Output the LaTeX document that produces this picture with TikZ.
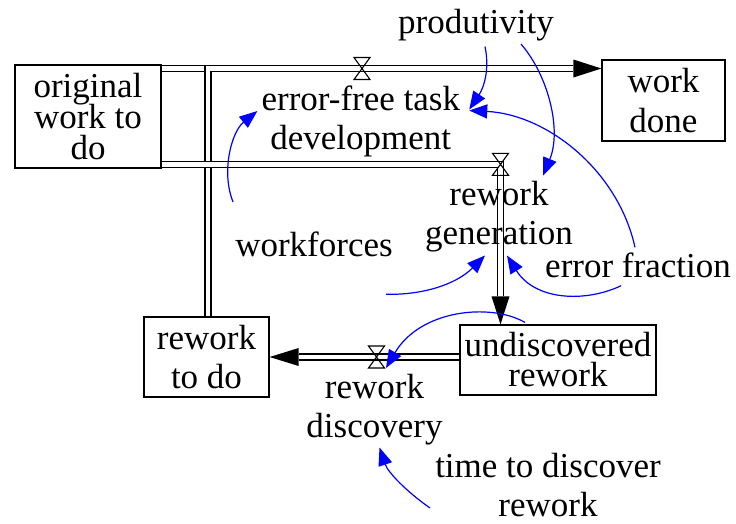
\documentclass[tikz,border=0pt]{standalone}
\usepackage{fontspec}
\setmainfont{Liberation Serif}
\usetikzlibrary{arrows.meta,calc}
\lineskiplimit=-100pt
\pgfdeclarelayer{pipes}
\pgfsetlayers{pipes,main}

\begin{document}
\begin{tikzpicture}[x=1pt,y=-1pt,
  lbl/.style={inner sep=0pt, align=center, font=\fontsize{35}{39.5}\selectfont},
  stock/.style={draw, line width=1.2pt, inner sep=0pt, align=center},
  pipe/.style={line width=1.3pt, double=white, double distance=4.5pt},
  infl/.style={draw=blue, line width=1.2pt, -{Triangle[length=18pt,width=14pt]}},
  valve/.pic={\draw[line width=1.1pt] (-8,-11) -- (8,-11) -- (-8,11) -- (8,11) -- cycle;}
]
\useasboundingbox (0,0) rectangle (736,523);

% stocks
\node[stock, minimum width=146pt, minimum height=103pt, font=\fontsize{35}{31.3}\selectfont] (orig) at (88,116.5) {original\\work to\\do};
\node[stock, minimum width=123pt, minimum height=81pt, font=\fontsize{35}{39.6}\selectfont] (done) at (663.5,100.5) {work\\done};
\node[stock, minimum width=125pt, minimum height=80pt, font=\fontsize{35}{39}\selectfont] (rtd) at (206.5,357) {rework\\to do};
\node[stock, minimum width=196pt, minimum height=70pt, font=\fontsize{35}{30}\selectfont] (ur) at (558,360) {undiscovered\\rework};

% flow and auxiliary labels
\node[lbl] (eftd) at (360.8,121.5) {error-free task\\development};
\node[lbl] (rg) at (499,216.6) {rework\\generation};
\node[lbl] (rd) at (374.5,409.6) {rework\\discovery};
\node[lbl] (tdr) at (548,485) {time to discover\\rework};
\node[lbl, anchor=base] (prod) at (476,33.3) {produtivity};
\node[lbl, anchor=base] (wf) at (314,256.7) {workforces};
\node[lbl, anchor=base] (errf) at (638,277.2) {error fraction};

% valve positions and pipe corner
\coordinate (vEF) at (362,68.5);
\coordinate (vRG) at (500.5,164.3);
\coordinate (vRD) at (376.5,357);
\coordinate (jTop) at (208,68.5);

% pipes
\begin{pgfonlayer}{pipes}
\draw[pipe] (orig.east |- vEF) -- (jTop);
\draw[pipe, shorten >=28pt] (rtd.north -| jTop) -- (jTop) -- (done.west |- vEF);
\draw[pipe, shorten >=28pt] (orig.east |- vRG) -- (vRG) -- (ur.north -| vRG);
\draw[pipe, shorten >=29pt] (ur.west |- vRD) -- (rtd.east |- vRD);
\end{pgfonlayer}

% flow arrowheads
\fill (done.west |- vEF) -- ++(-28,-9) -- ++(0,18) -- cycle;
\fill (ur.north -| vRG) -- ++(-9,-28) -- ++(18,0) -- cycle;
\fill (rtd.east |- vRD) -- ++(29,-9) -- ++(0,18) -- cycle;

% valves
\pic at (vEF) {valve};
\pic at (vRG) {valve};
\pic at (vRD) {valve};

% information links
\draw[infl] ($(wf.north)+(-81,-30)$) .. controls +(-12,-30) and +(-26,21) .. ($(eftd.west)+(-4,-10.5)$);
\draw[infl] ($(prod.south)+(9,5.5)$) .. controls +(5,24) and +(14,-21) .. ($(eftd.east)+(9,-12)$);
\draw[infl] ($(prod.south)+(45,3)$) .. controls +(27,31) and +(19,-46) .. ($(rg.north)+(44,-5)$);
\draw[infl] ($(errf.north)+(-3,-5)$) .. controls +(-17,-77) and +(78,4) .. ($(eftd.east)+(9,-11)$);
\draw[infl] ($(wf.south)+(72,37)$) .. controls +(34,1) and +(-30,30) .. ($(rg.south)+(-14,3)$);
\draw[infl] ($(errf.south)+(-17,8)$) .. controls +(-36,17) and +(28,45) .. ($(rg.south)+(8,3)$);
\draw[infl] ($(ur.north)+(-33,-2)$) .. controls +(-35,-20) and +(34,-58) .. ($(vRD)+(9.5,11)$);
\draw[infl] ($(tdr.west)+(-5,23)$) .. controls +(-23,-16) and +(8.5,25) .. ($(rd.south)+(5,2)$);
\end{tikzpicture}
\end{document}
